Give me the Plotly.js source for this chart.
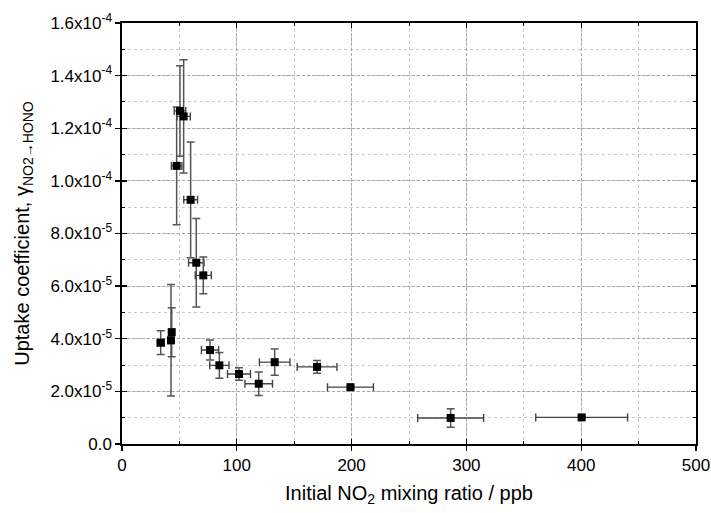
<!DOCTYPE html>
<html>
<head>
<meta charset="utf-8">
<script src="https://cdn.plot.ly/plotly-3.0.1.min.js"></script>
<style>html,body{margin:0;padding:0;background:#fff;}#chart{width:711px;height:513px;}</style>
</head>
<body>
<div id="chart"></div>
<script>
// Initial NO2 mixing ratio (ppb)
const no2 = [33.7, 42.7, 43.3, 47.6, 50.5, 53.7, 59.8, 64.7, 70.8, 76.7, 84.8, 101.9, 119.1, 133.0, 169.9, 199.0, 286.3, 400.4];
// x error (ppb)
const no2Err = [3, 2, 2, 4.6, 5, 5.8, 6, 6.7, 7, 7.5, 8.4, 10, 12, 13.3, 17.3, 20, 28.7, 40];
// Uptake coefficient gamma (NO2 -> HONO)
const gamma = [3.85e-5, 3.94e-5, 4.25e-5, 10.57e-5, 12.66e-5, 12.45e-5, 9.28e-5, 6.89e-5, 6.41e-5, 3.57e-5, 2.99e-5, 2.66e-5, 2.29e-5, 3.11e-5, 2.93e-5, 2.16e-5, 0.99e-5, 1.01e-5];
// y error
const gammaErr = [0.45e-5, 2.12e-5, 0.93e-5, 2.24e-5, 1.72e-5, 2.15e-5, 2.2e-5, 1.68e-5, 0.7e-5, 0.38e-5, 0.49e-5, 0.24e-5, 0.45e-5, 0.5e-5, 0.24e-5, 0.05e-5, 0.35e-5, 0.05e-5];

const yTickVals = [0, 2e-5, 4e-5, 6e-5, 8e-5, 10e-5, 12e-5, 14e-5, 16e-5];
const yTickText = ['0.0', '2.0x10<sup>-5</sup>', '4.0x10<sup>-5</sup>', '6.0x10<sup>-5</sup>', '8.0x10<sup>-5</sup>',
  '1.0x10<sup>-4</sup>', '1.2x10<sup>-4</sup>', '1.4x10<sup>-4</sup>', '1.6x10<sup>-4</sup>'];
const xTickVals = [0, 100, 200, 300, 400, 500];

const FONT = 'Arial, "Liberation Sans", sans-serif';

const traces = [
  {
    type: 'scatter', mode: 'markers',
    x: no2, y: gamma,
    error_x: {type: 'data', array: no2Err, visible: true, color: '#444', thickness: 1.4, width: 4},
    error_y: {type: 'data', array: gammaErr, visible: true, color: '#555', thickness: 1.5, width: 4},
    marker: {symbol: 'square', size: 8, color: '#000'},
    showlegend: false, hoverinfo: 'skip'
  },
  { type: 'scatter', mode: 'markers', x: [], y: [], xaxis: 'x2', yaxis: 'y2', showlegend: false, hoverinfo: 'skip' }
];

const layout = {
  width: 711, height: 513,
  margin: {l: 122, r: 15, t: 23, b: 69},
  paper_bgcolor: '#fff', plot_bgcolor: '#fff',
  font: {family: FONT, color: '#000', size: 17},
  xaxis: {
    range: [0, 500], tickvals: xTickVals, ticktext: xTickVals.map(String),
    ticks: 'outside', ticklen: 5, tickwidth: 1.3, tickcolor: '#000',
    showline: true, linecolor: '#000', linewidth: 1.6, mirror: true,
    showgrid: true, gridcolor: '#a8a8a8', griddash: '3px,2px', gridwidth: 1,
    minor: {dtick: 50, showgrid: true, gridcolor: '#c8c8c8', griddash: 'dot', gridwidth: 1},
    zeroline: false,
    tickfont: {size: 17, family: FONT},
    title: {text: 'Initial NO<sub>2</sub> mixing ratio / ppb', font: {size: 20, family: FONT}, standoff: 12}
  },
  yaxis: {
    range: [0, 1.6e-4], tickvals: yTickVals, ticktext: yTickText,
    ticks: 'outside', ticklen: 5, tickwidth: 1.3, tickcolor: '#000',
    showline: true, linecolor: '#000', linewidth: 1.6, mirror: true,
    showgrid: true, gridcolor: '#a8a8a8', griddash: '3px,2px', gridwidth: 1,
    minor: {dtick: 1e-5, tick0: 0, showgrid: true, gridcolor: '#c8c8c8', griddash: 'dot', gridwidth: 1},
    zeroline: false,
    tickfont: {size: 17, family: FONT},
    title: {text: 'Uptake coefficient, γ<sub>NO2→HONO</sub>', font: {size: 20, family: FONT}, standoff: 15}
  },
  xaxis2: {
    overlaying: 'x', anchor: 'y2', range: [0, 500], tickvals: xTickVals,
    ticks: 'inside', ticklen: 5, tickwidth: 1.3, tickcolor: '#000', mirror: 'ticks',
    showticklabels: false, showline: false, showgrid: false, zeroline: false,
    minor: {dtick: 50, ticks: 'inside', ticklen: 3, tickwidth: 1, tickcolor: '#000', showgrid: false}
  },
  yaxis2: {
    overlaying: 'y', anchor: 'x2', range: [0, 1.6e-4], tickvals: yTickVals,
    ticks: 'inside', ticklen: 5, tickwidth: 1.3, tickcolor: '#000', mirror: 'ticks',
    showticklabels: false, showline: false, showgrid: false, zeroline: false,
    minor: {dtick: 1e-5, tick0: 0, ticks: 'inside', ticklen: 3, tickwidth: 1, tickcolor: '#000', showgrid: false}
  }
};

Plotly.newPlot('chart', traces, layout, {staticPlot: true, displayModeBar: false});
</script>
</body>
</html>
